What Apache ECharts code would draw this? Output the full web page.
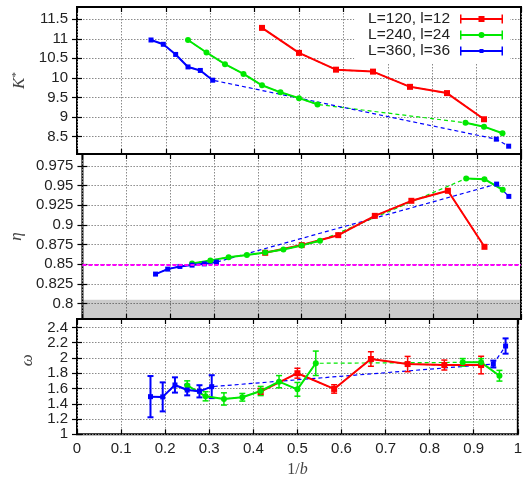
<!DOCTYPE html>
<html><head><meta charset="utf-8">
<script src="https://cdn.jsdelivr.net/npm/echarts@6/dist/echarts.min.js"></script>
<style>html,body{margin:0;padding:0;background:#fff}#c{width:525px;height:480px}</style>
</head><body><div id="c"></div>
<script>
// ---------------- data ----------------
const xTicks = [0, 0.1, 0.2, 0.3, 0.4, 0.5, 0.6, 0.7, 0.8, 0.9, 1];
const kTicks = [8.5, 9, 9.5, 10, 10.5, 11, 11.5];
const etaTicks = [0.8, 0.825, 0.85, 0.875, 0.9, 0.925, 0.95, 0.975];
const omegaTicks = [1, 1.2, 1.4, 1.6, 1.8, 2, 2.2, 2.4];

const kRange = [8.05, 11.815];
const etaRange = [0.7806, 0.99];
const omegaRange = [1, 2.51];

const seriesNames = ['L=120, l=12', 'L=240, l=24', 'L=360, l=36'];

// L=120, l=12
const x120 = [0.4167, 0.5, 0.5833, 0.6667, 0.75, 0.8333, 0.9167];
const k120 = [11.28, 10.64, 10.21, 10.16, 9.77, 9.61, 8.94];
const eta120 = [0.8646, 0.8744, 0.887, 0.9115, 0.9306, 0.9433, 0.8722];
const omega120 = [1.56, 1.80, 1.594, 1.986, 1.92, 1.907, 1.907];
const omegaErr120 = [0.04, 0.065, 0.055, 0.095, 0.10, 0.065, 0.115];
const runs120 = [[0, 6]];

// L=240, l=24
const x240 = [0.25, 0.2917, 0.3333, 0.375, 0.4167, 0.4583, 0.5, 0.5417, 0.875, 0.9167, 0.9583];
const k240 = [10.97, 10.65, 10.35, 10.10, 9.81, 9.63, 9.48, 9.32, 8.85, 8.75, 8.58];
const eta240 = [0.851, 0.855, 0.8591, 0.8617, 0.865, 0.8689, 0.874, 0.8798, 0.959, 0.9581, 0.9446];
const omega240 = [1.64, 1.498, 1.463, 1.485, 1.567, 1.689, 1.589, 1.93, 1.942, 1.942, 1.767];
const omegaErr240 = [0.06, 0.06, 0.08, 0.05, 0.06, 0.08, 0.09, 0.16, 0.05, 0.05, 0.07];
const runs240 = [[0, 7], [8, 10]];

// L=360, l=36
const x360 = [0.1667, 0.1944, 0.2222, 0.25, 0.2778, 0.3056, 0.9444, 0.9722];
const k360 = [10.97, 10.86, 10.60, 10.28, 10.19, 9.94, 8.43, 8.25];
const eta360 = [0.8376, 0.8439, 0.8473, 0.849, 0.8506, 0.8528, 0.9518, 0.9362];
const omega360 = [1.493, 1.49, 1.646, 1.58, 1.563, 1.624, 1.92, 2.156];
const omegaErr360 = [0.27, 0.19, 0.10, 0.07, 0.08, 0.15, 0.045, 0.10];
const runs360 = [[0, 5], [6, 6], [7, 7]];

const etaReference = 0.85;
const etaGrayBand = [0.7806, 0.805];

// ---------------- styling / build ----------------
const colors = ['#ff0000', '#00e800', '#0000ff'];
const symbols = ['rect', 'circle', 'rect'];
const symbolSizes = [6, 6, 5];
const errWidths = [1.5, 1.5, 2];
const groups = [
  {x: x120, k: k120, eta: eta120, om: omega120, err: omegaErr120, runs: runs120},
  {x: x240, k: k240, eta: eta240, om: omega240, err: omegaErr240, runs: runs240},
  {x: x360, k: k360, eta: eta360, om: omega360, err: omegaErr360, runs: runs360}
];

const FONT = 'Liberation Sans';
const SERIF = 'Liberation Serif';
const gridBoxes = [
  {top: 7, height: 147},
  {top: 154, height: 165},
  {top: 319, height: 115.3}
];
const grid = gridBoxes.map(b => ({
  left: 77, right: 4, top: b.top, height: b.height,
  show: true, borderColor: '#000', borderWidth: 2, backgroundColor: 'transparent'
}));

const tickStyle = {show: true, inside: true, length: 5, lineStyle: {color: '#000', width: 1.2}};
const gridLineStyle = {show: true, lineStyle: {color: '#8a8a8a', width: 1, type: [1.5, 1.5]}};

const xAxis = [];
for (let g = 0; g < 3; g++) {
  xAxis.push({
    type: 'value', gridIndex: g, position: 'bottom', min: 0, max: 1, interval: 0.1,
    axisLine: {show: false}, axisTick: tickStyle,
    splitLine: gridLineStyle,
    axisLabel: {show: g === 2, fontFamily: FONT, fontSize: 15, color: '#222', margin: 7},
    name: g === 2 ? '1/{i|b}' : '', nameLocation: 'middle', nameGap: 27,
    nameTextStyle: {fontFamily: SERIF, fontSize: 16, color: '#444',
      rich: {i: {fontFamily: SERIF, fontStyle: 'italic', fontSize: 16, color: '#444'}}}
  });
  xAxis.push({
    type: 'value', gridIndex: g, position: 'top', min: 0, max: 1, interval: 0.1,
    axisLine: {show: false}, axisTick: tickStyle, splitLine: {show: false}, axisLabel: {show: false}
  });
}

const yDefs = [
  {range: kRange, ticks: kTicks, name: '{k|K}{s|*}', pad: [0, 0, 0, 0]},
  {range: etaRange, ticks: etaTicks, name: '{k|η}', pad: [0, 0, 0, 0]},
  {range: omegaRange, ticks: omegaTicks, name: '{k|ω}', pad: [0, 0, 0, 33]}
];
const yAxis = [];
yDefs.forEach((d, g) => {
  yAxis.push({
    type: 'value', gridIndex: g, position: 'left', min: d.range[0], max: d.range[1],
    axisLine: {show: false},
    axisTick: Object.assign({}, tickStyle, {customValues: d.ticks}),
    axisLabel: {customValues: d.ticks, fontFamily: FONT, fontSize: 15, color: '#222', margin: 9},
    splitLine: gridLineStyle,
    name: d.name, nameLocation: 'middle', nameGap: 36, nameRotate: 90,
    nameTextStyle: {padding: d.pad, color: '#444',
      rich: {
        k: {fontFamily: SERIF, fontStyle: 'italic', fontSize: 17, color: '#444'},
        s: {fontFamily: SERIF, fontSize: 11, color: '#444', verticalAlign: 'top', padding: [0, 0, 6, 0]}
      }}
  });
  yAxis.push({
    type: 'value', gridIndex: g, position: 'right', min: d.range[0], max: d.range[1],
    axisLine: {show: false},
    axisTick: Object.assign({}, tickStyle, {customValues: d.ticks}),
    axisLabel: {show: false, customValues: d.ticks}, splitLine: {show: false}
  });
});

function errRenderer(params, api) {
  const x = api.value(0), y = api.value(1), e = api.value(2);
  const hi = api.coord([x, y + e]);
  const lo = api.coord([x, y - e]);
  const w = 3;
  const style = {stroke: api.visual('color'), lineWidth: params.seriesName.endsWith('2') ? 2 : 1.5};
  return {type: 'group', children: [
    {type: 'line', shape: {x1: hi[0], y1: hi[1], x2: lo[0], y2: lo[1]}, style},
    {type: 'line', shape: {x1: hi[0] - w, y1: hi[1], x2: hi[0] + w, y2: hi[1]}, style},
    {type: 'line', shape: {x1: lo[0] - w, y1: lo[1], x2: lo[0] + w, y2: lo[1]}, style}
  ]};
}

const series = [];
// reference line + gray band in eta panel
series.push({
  type: 'line', name: 'ref', xAxisIndex: 2, yAxisIndex: 2, data: [], silent: true,
  markLine: {symbol: 'none', silent: true, label: {show: false},
    lineStyle: {color: '#ff00ff', type: [4, 2], width: 2},
    data: [{yAxis: etaReference}]},
  markArea: {silent: true, itemStyle: {color: 'rgba(0,0,0,0.2)'},
    data: [[{yAxis: etaGrayBand[1]}, {yAxis: etaGrayBand[0]}]]},
  z: 1
});

const panelKeys = ['k', 'eta', 'om'];
groups.forEach((gr, c) => {
  panelKeys.forEach((key, p) => {
    const pts = gr.x.map((xv, i) => [xv, gr[key][i]]);
    // dashed connector through all points
    series.push({
      type: 'line', name: 'dash' + c + p, xAxisIndex: 2 * p, yAxisIndex: 2 * p,
      data: pts, showSymbol: false, symbol: 'none', silent: true,
      lineStyle: {color: colors[c], width: 1.2, type: [4, 3]}, z: 2
    });
    // solid runs with markers
    gr.runs.forEach(r => {
      series.push({
        type: 'line', name: seriesNames[c], xAxisIndex: 2 * p, yAxisIndex: 2 * p,
        data: pts.slice(r[0], r[1] + 1), symbol: symbols[c], symbolSize: symbolSizes[c],
        showSymbol: true, color: colors[c], silent: true,
        itemStyle: {color: colors[c]}, lineStyle: {color: colors[c], width: 2}, z: 4
      });
    });
  });
  // error bars on omega
  series.push({
    type: 'custom', name: 'err' + c, xAxisIndex: 4, yAxisIndex: 4,
    data: gr.x.map((xv, i) => [xv, gr.om[i], gr.err[i]]),
    encode: {x: 0, y: 1}, renderItem: errRenderer, silent: true,
    itemStyle: {color: colors[c]}, z: 3
  });
});

const legendIcons = [
  'path://M0,0 h1.5 v9 h-1.5 z M1.5,3.6 h40 v1.8 h-40 z M41.5,0 h1.5 v9 h-1.5 z M18.5,1.5 h6 v6 h-6 z',
  'path://M0,0 h1.5 v9 h-1.5 z M1.5,3.6 h40 v1.8 h-40 z M41.5,0 h1.5 v9 h-1.5 z M18.5,4.5 a3,3 0 1,1 6,0 a3,3 0 1,1 -6,0 z',
  'path://M0,0 h1.5 v9 h-1.5 z M1.5,3.5 h40 v2 h-40 z M41.5,0 h1.5 v9 h-1.5 z M19.5,2.5 h4 v4 h-4 z'
];

const option = {
  animation: false,
  backgroundColor: '#fff',
  grid, xAxis, yAxis, series,
  legend: {
    orient: 'vertical', right: 15, top: 8, align: 'right',
    itemWidth: 43, itemHeight: 9, itemGap: 0, selectedMode: false,
    backgroundColor: '#fff', padding: [3, 7, 5, 14],
    itemStyle: {borderWidth: 0},
    textStyle: {fontFamily: FONT, fontSize: 15.5, color: '#222', lineHeight: 16, padding: [0, 5, 0, 0]},
    data: seriesNames.map((n, i) => ({name: n, icon: legendIcons[i]})),
    z: 10
  }
};

const chart = echarts.init(document.getElementById('c'), null, {renderer: 'canvas'});
chart.setOption(option);
</script>
</body></html>
